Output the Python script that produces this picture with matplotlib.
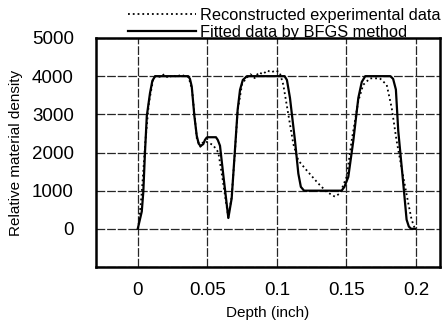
import matplotlib
matplotlib.use("Agg")
import matplotlib.pyplot as plt

# depth (inch) and relative density
fit_x = [0.0, 0.0029, 0.004, 0.0052, 0.0065, 0.0088, 0.0105, 0.0125, 0.02,
         0.03, 0.0362, 0.0375, 0.0388, 0.0407, 0.0424, 0.0438, 0.0452, 0.0471,
         0.0483, 0.0496, 0.0505, 0.0562, 0.0575, 0.0591, 0.0615, 0.0651,
         0.0675, 0.0699, 0.0718, 0.0735, 0.0755, 0.0785, 0.09, 0.1055, 0.1072,
         0.1094, 0.113, 0.1154, 0.1172, 0.1195, 0.13, 0.1465, 0.1485, 0.1513,
         0.1549, 0.1585, 0.161, 0.1635, 0.175, 0.1815, 0.1835, 0.1855, 0.1872,
         0.1908, 0.1932, 0.1948, 0.1965, 0.1992]
fit_y = [0, 455, 970, 2005, 2953, 3555, 3880, 4000, 4000,
         4000, 4000, 3930, 3728, 2953, 2437, 2230, 2170, 2222,
         2330, 2393, 2400, 2400, 2330, 2178, 1403, 284,
         800, 2093, 3127, 3643, 3900, 4000, 4000, 4000, 3900,
         3427, 2307, 1447, 1100, 1000, 1000, 1000, 1100, 1360,
         2307, 3427, 3850, 4000, 4000, 4000, 3930, 3650, 2566,
         1189, 240, 60, 0, 0]

exp_x = [0.0, 0.001, 0.003, 0.0055, 0.008, 0.011, 0.013, 0.016, 0.019, 0.022,
         0.025, 0.028, 0.031, 0.034, 0.0365, 0.039, 0.0425, 0.045, 0.0465,
         0.0485, 0.051, 0.054, 0.0579, 0.061, 0.063, 0.0651, 0.0675, 0.0699,
         0.0718, 0.075, 0.078, 0.081, 0.084, 0.087, 0.09, 0.093, 0.096, 0.099,
         0.102, 0.1046, 0.1082, 0.1118, 0.1154, 0.1214, 0.1297, 0.1357,
         0.1417, 0.1453, 0.1501, 0.1537, 0.1585, 0.162, 0.1669, 0.174, 0.1789,
         0.1825, 0.186, 0.1908, 0.1944, 0.1968, 0.1992]
exp_y = [0, 200, 1000, 2300, 3300, 3900, 4020, 3980, 4050, 3950,
         4030, 3980, 4040, 4000, 3980, 3650, 2350, 2150, 2250,
         2300, 2250, 2200, 2005, 1300, 800, 300, 850, 2050,
         3100, 3800, 3950, 4050, 3950, 4100, 4050, 4150, 4100, 4150,
         4100, 3773, 2997, 2222, 1791, 1532, 1189, 972,
         842, 930, 1360, 2307, 3350, 3773, 3943, 3943, 3773,
         3168, 2307, 1360, 672, 240, 0]

yticks = [-1000, 0, 1000, 2000, 3000, 4000, 5000]
ytick_labels = ["", "0", "1000", "2000", "3000", "4000", "5000"]
xticks = [0, 0.05, 0.1, 0.15, 0.2]
xtick_labels = ["0", "0.05", "0.1", "0.15", "0.2"]

plt.rcParams['font.family'] = ['Liberation Sans', 'DejaVu Sans']

fig = plt.figure(figsize=(4.43, 3.26), dpi=100)
ax = fig.add_axes([96/443, 1 - 267/326, 344/443, 229/326])

ax.plot(exp_x, exp_y, color='black', linestyle=':', linewidth=1.3,
        label='Reconstructed experimental data')
ax.plot(fit_x, fit_y, color='black', linestyle='-', linewidth=1.6,
        solid_joinstyle='round', label='Fitted data by BFGS method')

ax.set_xlim(-0.030, 0.2172)
ax.set_ylim(-1000, 5000)
ax.set_xticks(xticks)
ax.set_xticklabels(xtick_labels)
ax.set_yticks(yticks)
ax.set_yticklabels(ytick_labels)
ax.tick_params(length=0, labelsize=13.5)
ax.tick_params(axis='y', pad=16)
ax.tick_params(axis='x', pad=11)
ax.grid(True, color='0.15', linestyle=(0, (7, 1.5)), linewidth=0.9)
ax.set_axisbelow(True)
for s in ax.spines.values():
    s.set_linewidth(1.8)

ax.set_xlabel('Depth (inch)', fontsize=11, labelpad=5)
ax.set_ylabel('Relative material density', fontsize=11, labelpad=6)

fig.legend(loc='upper right', bbox_to_anchor=(441/443, 1 - 8/326),
           frameon=False, fontsize=11.8, handlelength=4.1, handletextpad=0.3,
           labelspacing=0.12, borderpad=0.0, borderaxespad=0.0)

fig.savefig('out.png', dpi=100)
